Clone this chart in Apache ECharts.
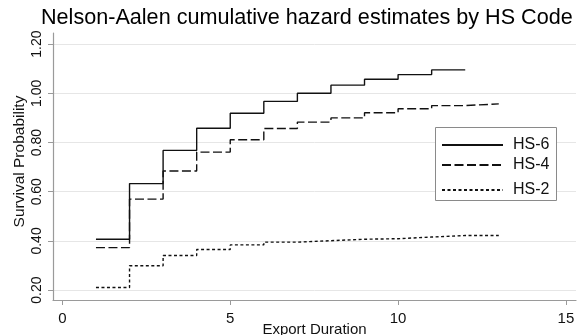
<!DOCTYPE html>
<html>
<head>
<meta charset="utf-8">
<title>Nelson-Aalen cumulative hazard estimates by HS Code</title>
<script src="https://cdn.jsdelivr.net/npm/echarts@6/dist/echarts.min.js"></script>
<style>
  html, body { margin: 0; padding: 0; background: #fff; }
  #chart { width: 585px; height: 335px; }
</style>
</head>
<body>
<div id="chart"></div>
<script>
// Export duration (years) at which each estimate starts
const durations = [1, 2, 3, 4, 5, 6, 7, 8, 9, 10, 11, 12];

// Cumulative hazard estimates per HS aggregation level
const hs6 = [0.407, 0.633, 0.768, 0.858, 0.919, 0.967, 1.000, 1.033, 1.057, 1.076, 1.095];
const hs4 = [0.373, 0.570, 0.684, 0.761, 0.811, 0.857, 0.883, 0.900, 0.921, 0.937, 0.950, 0.957];
const hs2 = [0.211, 0.299, 0.341, 0.365, 0.384, 0.395, 0.401, 0.407, 0.409, 0.416, 0.422, 0.422];

// Last observed duration for each curve
const hs6End = 12;
const hs4End = 13;
const hs2End = 13;

// Axis ticks
const xTicks = [0, 5, 10, 15];
const yTicks = [0.2, 0.4, 0.6, 0.8, 1.0, 1.2];

// Step function points: each value holds until the next duration
function stepPoints(values, end) {
  const pts = values.map((v, i) => [durations[i], v]);
  pts.push([end, values[values.length - 1]]);
  return pts;
}

const FONT = '"Liberation Sans", Arial, Helvetica, sans-serif';
const INK = '#111';

const chart = echarts.init(document.getElementById('chart'), null, { renderer: 'canvas' });

function lineSeries(name, values, end, type) {
  return {
    name: name,
    type: 'line',
    step: 'end',
    data: stepPoints(values, end),
    symbol: 'none',
    animation: false,
    lineStyle: { color: INK, width: 1.4, type: type },
    itemStyle: { color: INK }
  };
}

function legendFor(name, top) {
  return {
    data: [name],
    left: 441,
    top: top,
    padding: 0,
    itemWidth: 61,
    itemHeight: 14,
    z: 10,
    itemStyle: { opacity: 0 },
    textStyle: { fontFamily: FONT, fontSize: 16, color: INK, padding: [0, 0, 0, 5] }
  };
}

chart.setOption({
  backgroundColor: '#fff',
  animation: false,
  title: {
    text: 'Nelson-Aalen cumulative hazard estimates by HS Code',
    left: 41,
    top: 7,
    padding: 0,
    textStyle: { fontFamily: FONT, fontSize: 21.6, fontWeight: 'normal', color: '#000' }
  },
  grid: { left: 53, top: 33, right: 9, bottom: 35, containLabel: false, outerBoundsMode: 'none' },
  legend: [
    legendFor('HS-6', 137),
    legendFor('HS-4', 157),
    legendFor('HS-2', 182)
  ],
  graphic: [{
    type: 'rect',
    shape: { x: 435.5, y: 127.5, width: 121, height: 73 },
    style: { fill: '#fff', stroke: '#8a8a8a', lineWidth: 1 },
    z: 3
  }],
  xAxis: {
    type: 'value',
    min: -0.28,
    max: 15.3,
    name: 'Export Duration',
    nameLocation: 'middle',
    nameGap: 22,
    nameMoveOverlap: false,
    nameTextStyle: { fontFamily: FONT, fontSize: 15, color: INK },
    axisLine: { show: true, onZero: false, lineStyle: { color: '#9a9a9a', width: 1.2 } },
    axisTick: { show: true, length: 5, customValues: xTicks, lineStyle: { color: '#9a9a9a' } },
    axisLabel: { customValues: xTicks, margin: 11, fontFamily: FONT, fontSize: 15, color: INK },
    splitLine: { show: false }
  },
  yAxis: {
    type: 'value',
    min: 0.16,
    max: 1.245,
    name: 'Survival Probability',
    nameLocation: 'middle',
    nameGap: 25,
    nameMoveOverlap: false,
    nameTextStyle: { fontFamily: FONT, fontSize: 15.5, color: INK, padding: [0, 0, 0, 10] },
    axisLine: { show: true, onZero: false, lineStyle: { color: '#9a9a9a', width: 1.2 } },
    axisTick: { show: true, length: 5, customValues: yTicks, lineStyle: { color: '#9a9a9a' } },
    axisLabel: {
      customValues: yTicks,
      rotate: 90,
      margin: 9,
      fontFamily: FONT,
      fontSize: 14,
      color: INK,
      formatter: v => v.toFixed(2)
    },
    splitLine: { show: true, lineStyle: { color: '#e6e6e6', width: 1 } }
  },
  series: [
    lineSeries('HS-6', hs6, hs6End, 'solid'),
    lineSeries('HS-4', hs4, hs4End, [9, 3.5]),
    lineSeries('HS-2', hs2, hs2End, [3, 2.5])
  ]
});
</script>
</body>
</html>
